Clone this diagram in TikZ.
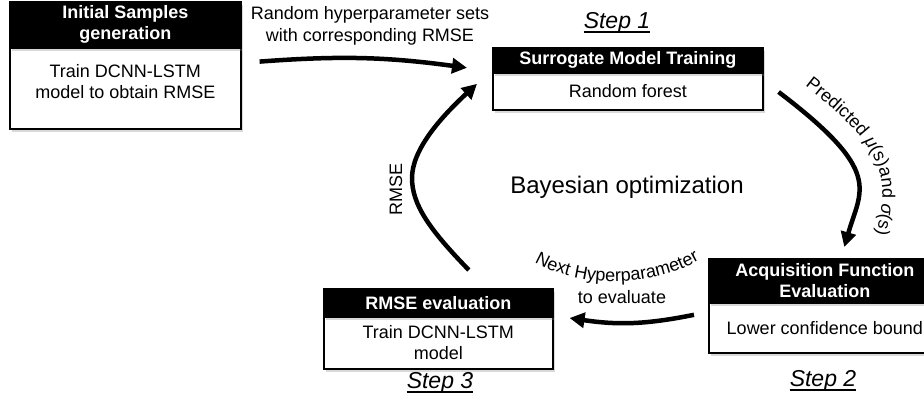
\documentclass[tikz,border=0pt]{standalone}
\usepackage{fontspec}
\setmainfont{Liberation Sans}
\usetikzlibrary{arrows.meta,shadows,decorations.text,calc}
\begin{document}
\begin{tikzpicture}[x=1pt,y=-1pt,
  shad/.style={drop shadow={opacity=0.3,shadow xshift=2pt,shadow yshift=-3pt}},
  hdr/.style={draw=black,line width=1.6pt,fill=black,text=white,
    font=\fontsize{18}{21}\selectfont\bfseries,align=center,anchor=north west,inner sep=0pt,shad},
  bodybox/.style={draw=black,line width=1.6pt,fill=white,
    font=\fontsize{18}{21}\selectfont,align=center,anchor=north west,inner sep=0pt,shad},
  arr/.style={line width=4.5pt,-{Triangle[length=15pt,width=15pt]}},
  lbl/.style={font=\fontsize{18}{22}\selectfont,align=center},
  steplbl/.style={font=\fontsize{23}{26}\selectfont\itshape,anchor=base,inner sep=0pt},
  uline/.style={line width=1.8pt}
]
\useasboundingbox (0,0) rectangle (924,402);

% Box 1
\node[bodybox,minimum width=231pt,minimum height=81pt] (b1) at (9,47) {Train DCNN-LSTM\\model to obtain RMSE\\[-8pt]};
\node[hdr,minimum width=231pt,minimum height=46pt] (h1) at (9,1) {Initial Samples\\generation};
% Box 2
\node[bodybox,minimum width=270pt,minimum height=37pt] (b2) at (492,72) {Random forest};
\node[hdr,minimum width=270pt,minimum height=25pt] (h2) at (492,47) {Surrogate Model Training};
% Box 3
\node[bodybox,minimum width=232pt,minimum height=50pt] (b3) at (708,302) {Lower confidence bound};
\node[hdr,minimum width=232pt,minimum height=44pt] (h3) at (708,258) {Acquisition Function\\Evaluation};
% Box 4
\node[bodybox,minimum width=229pt,minimum height=52pt] (b4) at (323,316) {Train DCNN-LSTM\\model};
\node[hdr,minimum width=229pt,minimum height=28pt] (h4) at (323,288) {RMSE evaluation};

% Arrows
\draw[arr] ([shift={(18,13)}]h1.south east) to[bend left=6] ([shift={(-25,7.5)}]h2.west);
\draw[arr] ([shift={(30.5,-18)}]h4.north) .. controls (430,230) and (412,205) .. (412,178)
  .. controls (412,150) and (440,118) .. ([shift={(-15,-7.5)}]b2.west);
\draw[arr] ([shift={(15,20)}]b2.north east) .. controls (884,172) and (861,189) .. ([shift={(19.5,-11)}]h3.north);
\draw[arr] ([shift={(-14,-13)}]b3.west) to[bend left=10] ([shift={(16,2)}]b4.north east);

% Labels
\node[lbl] (l1) at (370,26) {Random hyperparameter sets\\with corresponding RMSE};
\node[lbl,rotate=90] (l2) at (396,189) {RMSE};
\node[font=\fontsize{24}{28}\selectfont,anchor=base] (bo) at (627,193) {Bayesian optimization};
\node[lbl,anchor=base] (l4) at (622,303) {to evaluate};

\path[decorate,decoration={text along path,text align=left,
  text={|\fontsize{18}{21}\selectfont|Predicted |\fontsize{18}{21}\selectfont\itshape|μ|\fontsize{18}{21}\selectfont|(s)and |\fontsize{18}{21}\selectfont\itshape|σ|\fontsize{18}{21}\selectfont|(s)}}]
  (805,86) .. controls (906,164) and (884,190) .. (870,266);
\path[decorate,decoration={text along path,text align=center,
  text={|\fontsize{18}{21}\selectfont|Next Hyperparameter}}]
  (526,257) .. controls (575,290) and (655,290) .. (708,255);

\node[steplbl] (s1) at (617,28) {Step 1};
\node[steplbl] (s2) at (823,386) {Step 2};
\node[steplbl] (s3) at (440,388) {Step 3};
\draw[uline] ([yshift=-4pt]s1.base west) -- ([yshift=-4pt]s1.base east);
\draw[uline] ([yshift=-4pt]s2.base west) -- ([yshift=-4pt]s2.base east);
\draw[uline] ([yshift=-4pt]s3.base west) -- ([yshift=-4pt]s3.base east);
\end{tikzpicture}
\end{document}
